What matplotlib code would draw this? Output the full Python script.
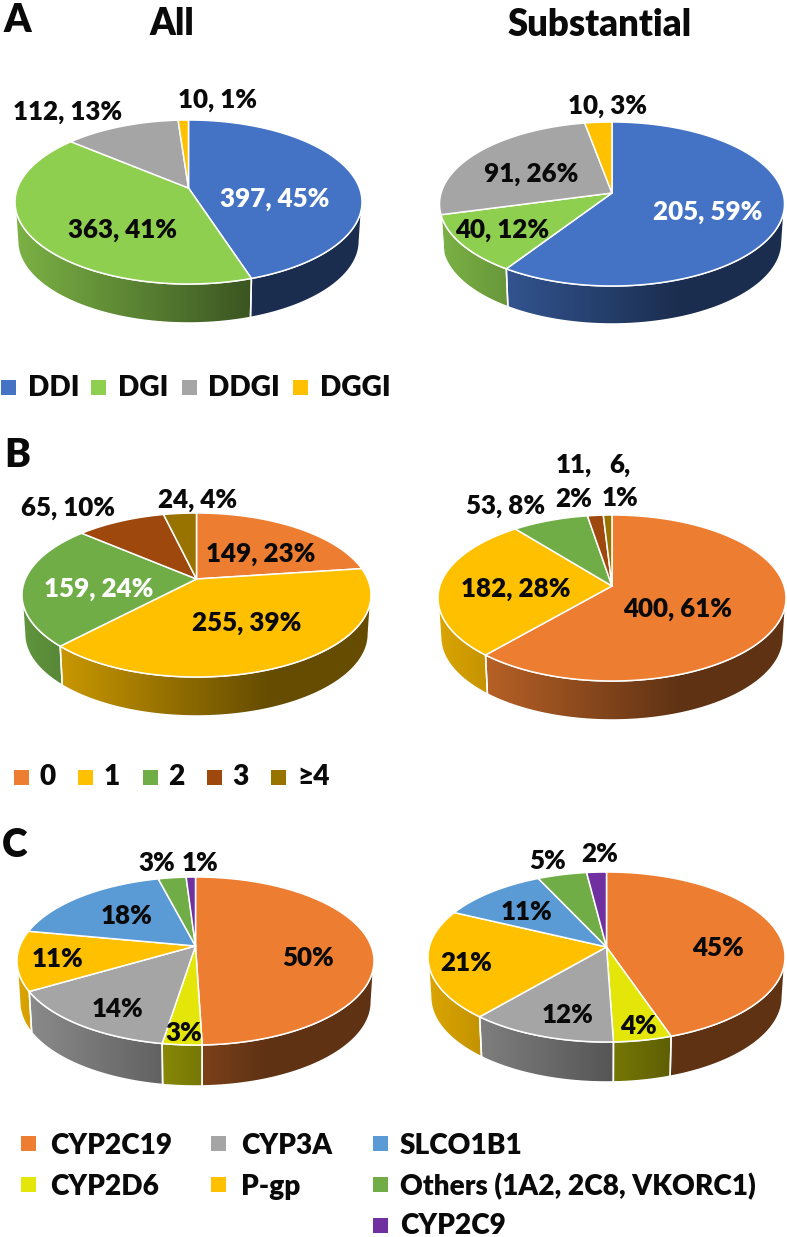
import matplotlib
matplotlib.use('Agg')
import matplotlib.pyplot as plt
import numpy as np
from matplotlib.patches import Polygon, Rectangle

WIDTH, HEIGHT = 787, 1237
FONT = dict(family='Lato', weight='heavy')
INK = '#0a0a0a'

# colours
DDI_COL = '#4472C4'
DGI_COL = '#8FCF50'
DDGI_COL = '#A5A5A5'
DGGI_COL = '#FFC000'
ORANGE = '#ED7D31'
YELLOW = '#FFC000'
GREEN = '#70AD47'
BROWN = '#9E480E'
OLIVE = '#997300'
LIME = '#E4E60A'
BLUE = '#5B9BD5'
PURPLE = '#7030A0'

# panel A
a_names = ['DDI', 'DGI', 'DDGI', 'DGGI']
a_colors = [DDI_COL, DGI_COL, DDGI_COL, DGGI_COL]
a_all = [397, 363, 112, 10]
a_sub = [205, 40, 91, 10]

# panel B
b_names = ['0', '1', '2', '3', '≥4']
b_colors = [ORANGE, YELLOW, GREEN, BROWN, OLIVE]
b_all = [149, 255, 159, 65, 24]
b_sub = [400, 182, 53, 11, 6]

# panel C, percent only (labels are rounded)
c_names = ['CYP2C19', 'CYP2D6', 'CYP3A', 'P-gp', 'SLCO1B1',
           'Others (1A2, 2C8, VKORC1)', 'CYP2C9']
c_colors = [ORANGE, LIME, DDGI_COL, YELLOW, BLUE, GREEN, PURPLE]
c_all = [49.5, 3.0, 14.0, 11.5, 18, 3, 1]
c_sub = [44.75, 4.7, 11.85, 20.8, 10.9, 5, 2]


def project(t, geom):
    # circle -> ellipse with a perspective, so apex sits above ellipse centre
    cx, apex_y, top_y, bottom_y, left, right, depth = geom
    up = apex_y - top_y
    down = bottom_y - apex_y
    k = (down - up) / (down + up)
    b = up * (1 + k)
    rx = (right - left) / 2 * np.sqrt(1 - k ** 2)
    u = np.sin(t)
    v = -np.cos(t)
    w = 1 - k * v
    return cx + rx * u / w, apex_y + b * v / w, k


def wall_shade(x, left, right, base):
    rel = np.clip((x - left) / (right - left), 0, 1)
    f = np.interp(rel, [0, 0.7, 1], [0.86, 0.40, 0.40])
    return np.outer(f, base)


def draw_pie(ax, values, colors, geom):
    cx, apex_y, top_y, bottom_y, left, right, depth = geom
    fractions = np.cumsum([0] + list(values)) / sum(values)
    angles = fractions * 2 * np.pi

    # side walls first
    for i, col in enumerate(colors):
        t = np.linspace(angles[i], angles[i + 1], 200)
        _, _, k = project(t, geom)
        t = t[-np.cos(t) >= k]
        if len(t) < 2:
            continue
        x, y, _ = project(t, geom)
        xb = cx + (x - cx) * 0.985
        yb = y + depth
        pts = np.vstack([np.column_stack([x, y]),
                         np.column_stack([xb, yb])[::-1]])
        poly = Polygon(pts, closed=True, facecolor='none', edgecolor='white',
                       lw=1.1, zorder=3)
        base = np.array(matplotlib.colors.to_rgb(col))
        xs = np.arange(np.floor(pts[:, 0].min()), np.ceil(pts[:, 0].max()) + 1)
        shade = wall_shade(xs, left, right, base)[np.newaxis, :, :]
        im = ax.imshow(shade, extent=(xs[0], xs[-1], pts[:, 1].max() + 1, pts[:, 1].min() - 1),
                       aspect='auto', zorder=2, interpolation='bilinear')
        ax.add_patch(poly)
        im.set_clip_path(poly)

    # top face
    for i, col in enumerate(colors):
        t = np.linspace(angles[i], angles[i + 1], 200)
        x, y, _ = project(t, geom)
        pts = np.vstack([[cx, apex_y], np.column_stack([x, y])])
        ax.add_patch(Polygon(pts, closed=True, facecolor=col, edgecolor='white',
                             lw=1.1, joinstyle='round', zorder=4))


def put_labels(ax, labels, size=18.7):
    for txt, x, y, col in labels:
        ax.text(x, y + size * 0.5, txt, color=col, fontsize=size, ha='center',
                va='baseline', zorder=6, **FONT)


def put_legend(ax, names, colors, squares, texts, size=20.2):
    for name, col, (sx, sy), (tx, ty) in zip(names, colors, squares, texts):
        ax.add_patch(Rectangle((sx, sy - 7.5), 15, 15, facecolor=col, edgecolor='none'))
        ax.text(tx, ty, name, color=INK, fontsize=size, ha='left', va='baseline', **FONT)


fig = plt.figure(figsize=(WIDTH / 100, HEIGHT / 100), dpi=100)
ax = fig.add_axes([0, 0, 1, 1])

# cx, apex y, top y, bottom y, left, right, depth
draw_pie(ax, a_all, a_colors, (188.5, 188, 120, 284, 15, 362, 39))
draw_pie(ax, a_sub, a_colors, (612, 193, 122, 286, 439, 784, 38))
draw_pie(ax, b_all, b_colors, (196.5, 579, 513, 677, 22, 371, 39))
draw_pie(ax, b_sub, b_colors, (612, 586, 515, 681, 438, 786, 39))
draw_pie(ax, c_all, c_colors, (195.5, 946, 877, 1045, 17, 374, 41))
draw_pie(ax, c_sub, c_colors, (606.5, 947, 872, 1042, 428, 785, 40))

put_labels(ax, [('397, 45%', 275, 197, 'white'), ('363, 41%', 122, 228, INK),
                ('112, 13%', 68, 110, INK), ('10, 1%', 218, 98, INK),
                ('205, 59%', 708, 210, 'white'), ('40, 12%', 502, 228, INK),
                ('91, 26%', 531, 172, INK), ('10, 3%', 607, 104, INK)])
put_labels(ax, [('149, 23%', 261, 552, INK), ('255, 39%', 247, 621, INK),
                ('159, 24%', 99, 587, 'white'), ('65, 10%', 68, 506, INK),
                ('24, 4%', 198, 498, INK),
                ('400, 61%', 678, 607, INK), ('182, 28%', 516, 587, INK),
                ('53, 8%', 506, 504, INK), ('11,', 574, 463, INK), ('2%', 574, 498, INK),
                ('6,', 620, 463, INK), ('1%', 620, 497, INK)])
put_labels(ax, [('50%', 308, 957, INK), ('18%', 127, 915, INK), ('11%', 58, 958, INK),
                ('14%', 118, 1008, INK), ('3%', 184, 1032, INK), ('3%', 157, 862, INK),
                ('1%', 200, 862, INK),
                ('45%', 718, 947, INK), ('21%', 466, 962, INK), ('12%', 568, 1014, INK),
                ('11%', 527, 911, INK), ('4%', 638, 1025, INK), ('5%', 548, 860, INK),
                ('2%', 600, 853, INK)])

# titles and panel letters
ax.text(172, 35, 'All', fontsize=26.3, ha='center', va='baseline', color=INK, **FONT)
ax.text(600, 36, 'Substantial', fontsize=26.3, ha='center', va='baseline', color=INK, **FONT)
ax.text(17, 32, 'A', fontsize=28, ha='center', va='baseline', color=INK, **FONT)
ax.text(17, 467, 'B', fontsize=28, ha='center', va='baseline', color=INK, **FONT)
ax.text(15, 857, 'C', fontsize=28, ha='center', va='baseline', color=INK, **FONT)

# legends
put_legend(ax, a_names, a_colors,
           [(1, 387), (91, 387), (182, 387), (293, 387)],
           [(28, 396), (118, 396), (208, 396), (320, 396)])
put_legend(ax, b_names, b_colors,
           [(14, 777), (78, 777), (143, 777), (207, 777), (271, 777)],
           [(39, 785), (104, 785), (168, 785), (232, 785), (297, 785)])
put_legend(ax, c_names, c_colors,
           [(21, 1143), (21, 1184), (211, 1143), (211, 1184), (373, 1143), (373, 1184), (373, 1225)],
           [(50, 1154), (50, 1195), (241, 1154), (241, 1195), (400, 1154), (400, 1195), (400, 1234)])

ax.set_xlim(0, WIDTH)
ax.set_ylim(HEIGHT, 0)
ax.axis('off')

fig.savefig('out.png', dpi=100, facecolor='white')
